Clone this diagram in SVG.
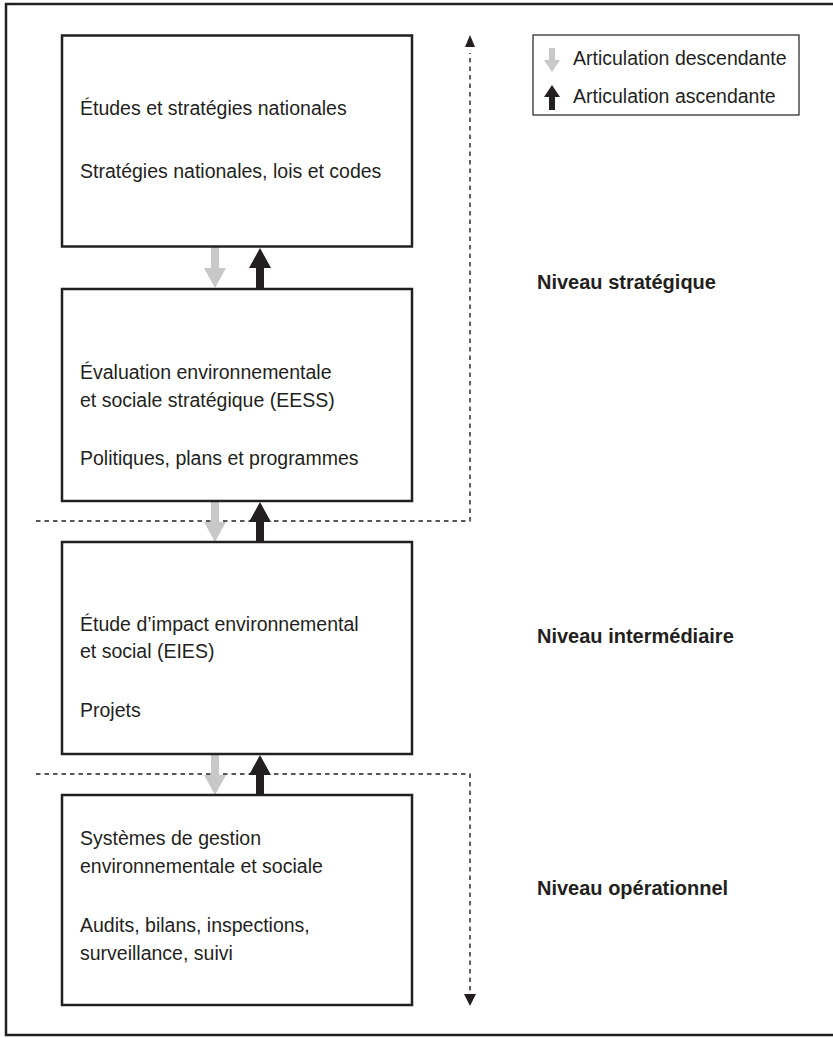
<svg xmlns="http://www.w3.org/2000/svg" width="833" height="1038" viewBox="0 0 833 1038">
<defs>
<style>
.frame{fill:#fff;stroke:#231f20;stroke-width:2.5}
.box{fill:#fff;stroke:#231f20;stroke-width:2.5}
.t{font-family:"Liberation Sans",Arial,sans-serif;font-size:19.5px;fill:#231f20}
.lg{font-family:"Liberation Sans",Arial,sans-serif;font-size:19.5px;fill:#231f20}
.lvl{font-family:"Liberation Sans",Arial,sans-serif;font-size:20px;font-weight:bold;fill:#231f20}
.dash{fill:none;stroke:#231f20;stroke-width:1.4;stroke-dasharray:4.5 4}
.down{fill:#c8c8c8}
.up{fill:#231f20}
</style>
<path id="dn" d="M-4,0 H4 V21 H11 L0,41 L-11,21 H-4 Z"/>
<path id="upa" d="M-4,41 H4 V21 H11 L0,1 L-11,21 H-4 Z"/>
</defs>
<rect class="frame" x="6" y="4" width="830" height="1031"/>
<g id="legend">
<rect x="533" y="35" width="266" height="80" fill="#fff" stroke="#231f20" stroke-width="1.2"/>
<path class="down" d="M549,48 H555 V60 H560 L552,72 L544,60 H549 Z"/>
<path class="up" d="M549,110 H555 V97 H560 L552,85 L544,97 H549 Z"/>
<text class="lg" x="573" y="65">Articulation descendante</text>
<text class="lg" x="573" y="103">Articulation ascendante</text>
</g>
<g id="connectors">
<path class="dash" d="M36,521 H470 V53"/>
<path d="M465,47 L470,35 L475,47 Z" fill="#231f20"/>
<path class="dash" d="M36,774 H470 V994"/>
<path d="M464,994 L470,1006 L476,994 Z" fill="#231f20"/>
<use href="#dn" class="down" x="215" y="247"/>
<use href="#upa" class="up" x="260" y="247"/>
<use href="#dn" class="down" x="215" y="501"/>
<use href="#upa" class="up" x="260" y="501"/>
<use href="#dn" class="down" x="215" y="754"/>
<use href="#upa" class="up" x="260" y="754"/>
</g>
<g id="box1">
<rect class="box" x="62" y="35.5" width="350" height="211"/>
<text class="t" x="80" y="115">Études et stratégies nationales</text>
<text class="t" x="80" y="178">Stratégies nationales, lois et codes</text>
</g>
<g id="box2">
<rect class="box" x="62" y="289" width="350" height="212"/>
<text class="t" x="80" y="379">Évaluation environnementale</text>
<text class="t" x="80" y="407">et sociale stratégique (EESS)</text>
<text class="t" x="80" y="465">Politiques, plans et programmes</text>
</g>
<g id="box3">
<rect class="box" x="62" y="542" width="350" height="212"/>
<text class="t" x="80" y="631">Étude d’impact environnemental</text>
<text class="t" x="80" y="658">et social (EIES)</text>
<text class="t" x="80" y="717">Projets</text>
</g>
<g id="box4">
<rect class="box" x="62" y="795" width="350" height="210"/>
<text class="t" x="80" y="845">Systèmes de gestion</text>
<text class="t" x="80" y="873">environnementale et sociale</text>
<text class="t" x="80" y="932">Audits, bilans, inspections,</text>
<text class="t" x="80" y="960">surveillance, suivi</text>
</g>
<g id="levels">
<text class="lvl" x="537" y="289">Niveau stratégique</text>
<text class="lvl" x="537" y="643">Niveau intermédiaire</text>
<text class="lvl" x="537" y="895">Niveau opérationnel</text>
</g>
</svg>
